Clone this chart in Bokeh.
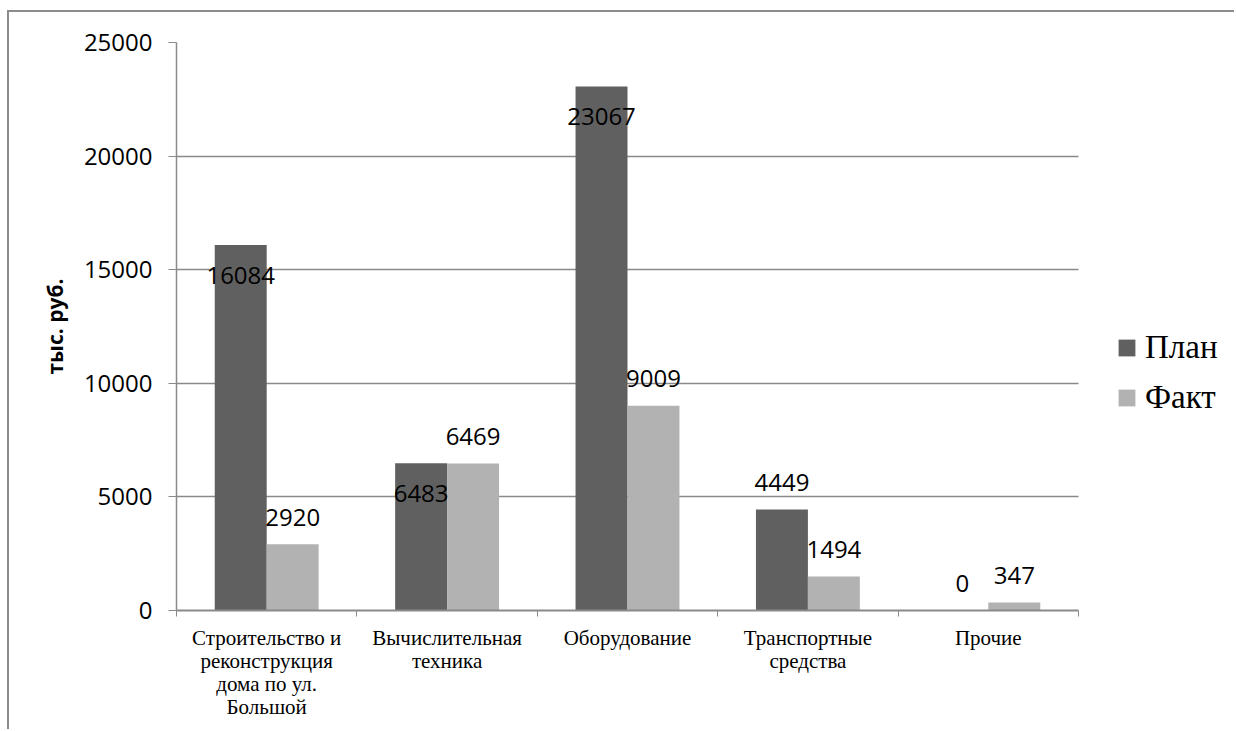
from bokeh.plotting import figure
from bokeh.models import (ColumnDataSource, FixedTicker, Legend, LegendItem, Range1d)
from bokeh.core.properties import value
from bokeh.embed import file_html
from bokeh.resources import INLINE

# ---- data ----
categories = ["Строительство и\nреконструкция\nдома по ул.\nБольшой",
              "Вычислительная\nтехника",
              "Оборудование",
              "Транспортные\nсредства",
              "Прочие"]
plan = [16084, 6483, 23067, 4449, 0]
fact = [2920, 6469, 9009, 1494, 347]
series_names = ["План", "Факт"]
y_ticks = [0, 5000, 10000, 15000, 20000, 25000]

# ---- style ----
DARK = "#606060"
LIGHT = "#b2b2b2"
GRID = "#8a8a8a"
BAR_W = 0.288
# label vertical offsets in screen px (positive = down)
plan_label_dy = [30, 30, 30, -27, -27]
fact_label_dy = [-27, -27, -27, -27, -27]

n = len(categories)
centers = [i + 0.5 for i in range(n)]

OFF_X, OFF_Y = 9, 12          # outer border position in the window
PLOT_L, PLOT_R = 176, 1078     # plot area (axes) left/right in window px
FRAME_R = 1236                 # frame extends to the window edge (legend room)
x_end = n * (FRAME_R - PLOT_L) / (PLOT_R - PLOT_L)

p = figure(width=1236 - OFF_X, height=731 - OFF_Y, output_backend="svg",
           toolbar_location=None,
           x_range=Range1d(0, x_end), y_range=Range1d(0, 25000),
           min_border_left=PLOT_L - OFF_X, min_border_right=0,
           min_border_top=42 - OFF_Y, min_border_bottom=121)
p.margin = (OFF_Y - 2, 0, 0, OFF_X - 2)
p.styles = {"border-left": "2px solid #8c8c8c", "border-top": "2px solid #8c8c8c"}
p.outline_line_color = None
p.background_fill_color = "white"
p.border_fill_color = "white"

src_plan = ColumnDataSource(dict(x=[c - BAR_W / 2 for c in centers], top=plan,
                                 lbl=[str(v) for v in plan], dy=plan_label_dy))
src_fact = ColumnDataSource(dict(x=[c + BAR_W / 2 for c in centers], top=fact,
                                 lbl=[str(v) for v in fact], dy=fact_label_dy))

r_plan = p.vbar(x="x", top="top", bottom=0, width=BAR_W, source=src_plan,
                fill_color=DARK, line_color=None)
r_fact = p.vbar(x="x", top="top", bottom=0, width=BAR_W, source=src_fact,
                fill_color=LIGHT, line_color=None)

for src in (src_plan, src_fact):
    p.text(x="x", y="top", text="lbl", y_offset="dy", source=src,
           text_align="center", text_baseline="middle",
           text_font=value("Open Sans"), text_font_size="24px", text_color="black")

# y axis
yax = p.yaxis[0]
yax.ticker = FixedTicker(ticks=y_ticks)
yax.axis_line_color = GRID
yax.axis_line_width = 1.5
yax.major_tick_line_color = GRID
yax.major_tick_in = 0
yax.major_tick_out = 8
yax.minor_tick_line_color = None
yax.major_label_text_font = "Open Sans"
yax.major_label_text_font_size = "24px"
yax.major_label_text_color = "black"
yax.major_label_standoff = 16
yax.axis_label = "тыс. руб."
yax.axis_label_text_font = "Open Sans"
yax.axis_label_text_font_style = "bold"
yax.axis_label_text_font_size = "21px"
yax.axis_label_text_color = "black"
yax.axis_label_standoff = 12

# x axis
xax = p.xaxis[0]
xax.bounds = (0, n)
xax.ticker = FixedTicker(ticks=centers, minor_ticks=list(range(n + 1)))
xax.major_label_overrides = {c: lab for c, lab in zip(centers, categories)}
xax.axis_line_color = GRID
xax.axis_line_width = 2
xax.major_tick_line_color = None
xax.minor_tick_line_color = GRID
xax.minor_tick_in = 0
xax.minor_tick_out = 6
xax.major_label_text_font = "Liberation Serif"
xax.major_label_text_font_size = "21px"
xax.major_label_text_line_height = 0.97
xax.major_label_text_color = "black"
xax.major_label_standoff = 9

p.xgrid.grid_line_color = None
p.ygrid.grid_line_color = GRID
p.ygrid.grid_line_width = 1.5
p.ygrid.ticker = FixedTicker(ticks=y_ticks)
p.ygrid.cross_bounds = (0, n)

legend = Legend(items=[LegendItem(label=series_names[0], renderers=[r_plan]),
                       LegendItem(label=series_names[1], renderers=[r_fact])],
                location=(1116 - PLOT_L, 194))
legend.glyph_width = 21
legend.glyph_height = 21
legend.label_height = 38
legend.spacing = 12
legend.padding = 0
legend.margin = 0
legend.label_standoff = 8
legend.label_text_font = "Liberation Serif"
legend.label_text_font_size = "33px"
legend.label_text_color = "black"
legend.border_line_color = None
legend.background_fill_alpha = 0
p.add_layout(legend)

open("out.html", "w").write(file_html(p, INLINE))
